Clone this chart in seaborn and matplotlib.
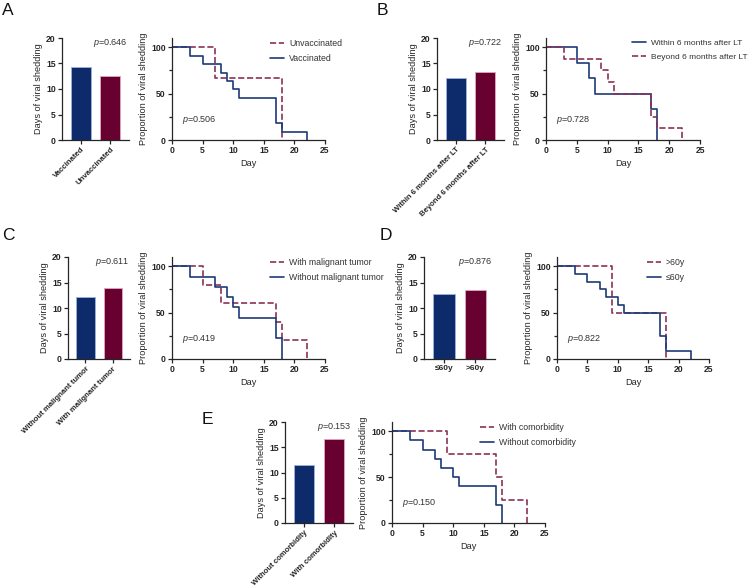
import pandas as pd
import seaborn as sns
import matplotlib.pyplot as plt
from matplotlib.ticker import MultipleLocator

sns.set_theme(style='ticks')
plt.rcParams['font.family'] = ['Liberation Sans', 'DejaVu Sans']
plt.rcParams['mathtext.fontset'] = 'custom'
plt.rcParams['mathtext.rm'] = 'Liberation Sans'
plt.rcParams['mathtext.it'] = 'Liberation Sans:italic'

BAR_BLUE = '#0d2b6b'
BAR_RED = '#680030'
LINE_BLUE = '#1d3a78'
LINE_RED = '#8c3157'
AXIS = '#262626'

# ---- data ----
# A: vaccination
a_groups = ['Vaccinated', 'Unvaccinated']
a_days = [14.4, 12.5]
a_p_bar = '0.646'
a_p_km = '0.506'
a_vac_t = [0, 3, 5, 8, 9, 10, 11, 17, 18, 22]
a_vac_s = [100, 90.9, 81.8, 72.7, 63.6, 54.5, 45.5, 18.2, 9.1, 0]
a_unvac_t = [0, 7, 18]
a_unvac_s = [100, 66.7, 0]

# B: time after LT
b_groups = ['Within 6 months after LT', 'Beyond 6 months after LT']
b_days = [12.2, 13.4]
b_p_bar = '0.722'
b_p_km = '0.728'
b_within_t = [0, 5, 7, 8, 17, 18]
b_within_s = [100, 83.3, 66.7, 50, 33.3, 0]
b_beyond_t = [0, 3, 9, 10, 11, 17, 18, 22]
b_beyond_s = [100, 87.5, 75, 62.5, 50, 25, 12.5, 0]

# C: malignant tumor
c_groups = ['Without malignant tumor', 'With malignant tumor']
c_days = [12.2, 14.0]
c_p_bar = '0.611'
c_p_km = '0.419'
c_without_t = [0, 3, 7, 9, 10, 11, 17, 18]
c_without_s = [100, 88.9, 77.8, 66.7, 55.6, 44.4, 22.2, 0]
c_with_t = [0, 5, 8, 17, 18, 22]
c_with_s = [100, 80, 60, 40, 20, 0]

# D: age
d_groups = ['≤60y', '>60y']
d_days = [12.7, 13.5]
d_p_bar = '0.876'
d_p_km = '0.822'
d_young_t = [0, 3, 5, 7, 8, 10, 11, 17, 18, 22]
d_young_s = [100, 91.7, 83.3, 75, 66.7, 58.3, 50, 25, 8.3, 0]
d_old_t = [0, 9, 18]
d_old_s = [100, 50, 0]

# E: comorbidity
e_groups = ['Without comorbidity', 'With comorbidity']
e_days = [11.4, 16.6]
e_p_bar = '0.153'
e_p_km = '0.150'
e_without_t = [0, 3, 5, 7, 8, 10, 11, 17, 18]
e_without_s = [100, 90, 80, 70, 60, 50, 40, 20, 0]
e_with_t = [0, 9, 17, 18, 22]
e_with_s = [100, 75, 50, 25, 0]


def rect(x0, x1, y0, y1):
    # pixel box -> figure fraction
    return [x0 / 750, 1 - y1 / 587, (x1 - x0) / 750, (y1 - y0) / 587]


def style_axis(ax):
    sns.despine(ax=ax)
    for s in ['left', 'bottom']:
        ax.spines[s].set_color(AXIS)
        ax.spines[s].set_linewidth(0.9)
    ax.tick_params(axis='both', which='major', length=3, width=0.9, color=AXIS,
                   labelsize=6.2, pad=1.5)
    ax.tick_params(axis='both', which='minor', length=2, width=0.9, color=AXIS)
    for lab in ax.get_yticklabels() + ax.get_xticklabels():
        lab.set_fontweight('bold')


def draw_bar(ax, groups, days, p, rotate=True):
    df = pd.DataFrame({'group': groups, 'days': days})
    sns.barplot(data=df, x='group', y='days', hue='group', order=groups,
                palette=[BAR_BLUE, BAR_RED], saturation=1, width=0.68,
                legend=False, ax=ax)
    edges = ['#9fb3dc', '#e3a6bd']
    for patch, ec in zip(ax.patches, edges):
        patch.set_edgecolor(ec)
        patch.set_linewidth(0.6)
    ax.set_xlim(-0.64, 1.63)
    ax.set_ylim(0, 20)
    ax.set_yticks([0, 5, 10, 15, 20])
    ax.set_xlabel('')
    ax.set_ylabel('Days of viral shedding', fontsize=6.6, labelpad=2)
    style_axis(ax)
    if rotate:
        ax.set_xticks([0, 1])
        ax.set_xticklabels(groups, rotation=45, ha='right', rotation_mode='anchor',
                           fontsize=5.6, fontweight='bold')
    else:
        ax.set_xticklabels(groups, fontsize=6, fontweight='bold')
    ax.text(1, 19, r'$p$=' + p, ha='center', va='center', fontsize=6.5, color='#333333')


def draw_km(ax, curves, p, lx, fs=6.3):
    for label, t, s, dashed in curves:
        sns.lineplot(x=t, y=s, drawstyle='steps-post', estimator=None, sort=False,
                     color=LINE_RED if dashed else LINE_BLUE,
                     linestyle='--' if dashed else '-', linewidth=1.2,
                     label=label, ax=ax)
    ax.set_xlim(0, 25)
    ax.set_ylim(0, 110)
    ax.set_xticks([0, 5, 10, 15, 20, 25])
    ax.set_yticks([0, 50, 100])
    ax.yaxis.set_minor_locator(MultipleLocator(25))
    ax.set_xlabel('Day', fontsize=6.6, labelpad=3)
    ax.set_ylabel('Proportion of viral shedding', fontsize=6.6, labelpad=2)
    style_axis(ax)
    ax.text(1.7, 22, r'$p$=' + p, ha='left', va='center', fontsize=6.5, color='#333333')
    ax.legend(loc='upper left', bbox_to_anchor=(lx, 0.99), frameon=False,
              fontsize=fs, borderpad=0, borderaxespad=0, handlelength=1.6,
              handletextpad=0.6, labelspacing=0.7, labelcolor='#333333')


fig = plt.figure(figsize=(7.5, 5.87), dpi=100)

ax = fig.add_axes(rect(62, 129, 38, 140))
draw_bar(ax, a_groups, a_days, a_p_bar)
ax = fig.add_axes(rect(172, 325, 38, 140))
draw_km(ax, [('Unvaccinated', a_unvac_t, a_unvac_s, True),
             ('Vaccinated', a_vac_t, a_vac_s, False)], a_p_km, 0.64)

ax = fig.add_axes(rect(437, 504, 38, 140))
draw_bar(ax, b_groups, b_days, b_p_bar)
ax = fig.add_axes(rect(546, 700, 38, 140))
draw_km(ax, [('Within 6 months after LT', b_within_t, b_within_s, False),
             ('Beyond 6 months after LT', b_beyond_t, b_beyond_s, True)], b_p_km, 0.56, fs=6.0)

ax = fig.add_axes(rect(68, 130, 257, 359))
draw_bar(ax, c_groups, c_days, c_p_bar)
ax = fig.add_axes(rect(172, 325, 257, 359))
draw_km(ax, [('With malignant tumor', c_with_t, c_with_s, True),
             ('Without malignant tumor', c_without_t, c_without_s, False)], c_p_km, 0.64)

ax = fig.add_axes(rect(424, 495, 257, 359))
draw_bar(ax, d_groups, d_days, d_p_bar, rotate=False)
ax = fig.add_axes(rect(557, 709, 257, 359))
draw_km(ax, [('>60y', d_old_t, d_old_s, True),
             ('≤60y', d_young_t, d_young_s, False)], d_p_km, 0.59)

ax = fig.add_axes(rect(285, 353, 422, 523))
draw_bar(ax, e_groups, e_days, e_p_bar)
ax = fig.add_axes(rect(392, 545, 422, 523))
draw_km(ax, [('With comorbidity', e_with_t, e_with_s, True),
             ('Without comorbidity', e_without_t, e_without_s, False)], e_p_km, 0.575)

for letter, x, y in [('A', 2, 3), ('B', 377, 3), ('C', 2, 228), ('D', 380, 228), ('E', 202, 412)]:
    fig.text(x / 750, 1 - y / 587, letter, fontsize=12.5, ha='left', va='top', color='#111111')

fig.savefig('out.png', dpi=100)
